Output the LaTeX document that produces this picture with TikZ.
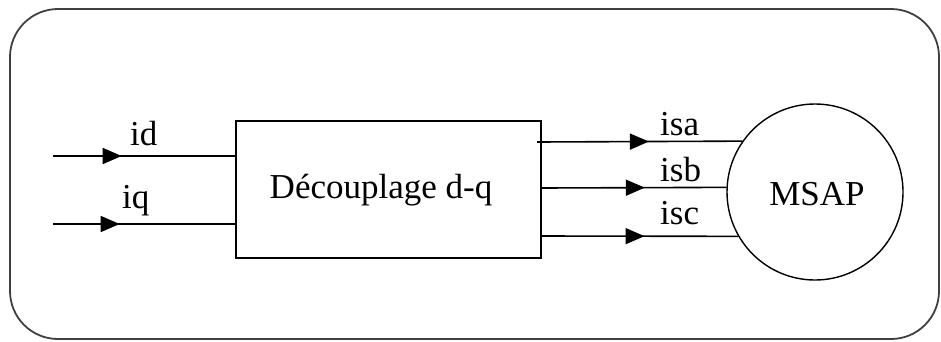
\documentclass[tikz,border=0pt]{standalone}
\usepackage{fontspec}
\setmainfont{Liberation Serif}
\usetikzlibrary{arrows.meta,decorations.markings}
\begin{document}
\begin{tikzpicture}[x=1pt,y=-1pt,
  lbl/.style={anchor=base west,inner sep=0pt,font=\fontsize{35}{40}\selectfont},
  wire/.style={line width=1.6pt,black},
  arrowat/.style={wire,postaction={decorate},decoration={markings,mark=at position #1 with {\arrow{Triangle[length=19pt,width=16pt]}}}}
]
\useasboundingbox (0,0) rectangle (941,341);
\draw[line width=1.8pt,black!75,rounded corners=48pt] (10,9) rectangle (939,339);
\node[draw,line width=1.6pt,minimum width=305pt,minimum height=137pt,inner sep=0pt] (box) at (388.5,189.5) {};
\node[anchor=base,inner sep=0pt,font=\fontsize{35}{40}\selectfont] (btxt) at (381,198) {Découplage d-q};
\node[draw,circle,line width=1.4pt,minimum size=176pt,inner sep=0pt] (m) at (815,192) {};
\node[anchor=base,inner sep=0pt,font=\fontsize{35}{40}\selectfont] (mtxt) at (817,205) {MSAP};
% inputs
\coordinate (in1) at (53,156);
\coordinate (in2) at (53,224);
\draw[arrowat=0.377] (in1) -- (in1 -| box.west);
\draw[arrowat=0.366] (in2) -- (in2 -| box.west);
\node[lbl] (lid) at (130,145) {id};
\node[lbl] (liq) at (122,208) {iq};
% outputs
\coordinate (o1) at (537,142);
\coordinate (o2) at (541,188);
\coordinate (o3) at (541,236);
\draw[arrowat=0.545] (o1) -- (m.145.4);
\draw[arrowat=0.56] (o2) -- (m.177.4);
\draw[arrowat=0.525] (o3) -- (m.210);
\node[lbl] (la) at (660,135) {isa};
\node[lbl] (lb) at (660,181) {isb};
\node[lbl] (lc) at (660,224) {isc};
\end{tikzpicture}
\end{document}
